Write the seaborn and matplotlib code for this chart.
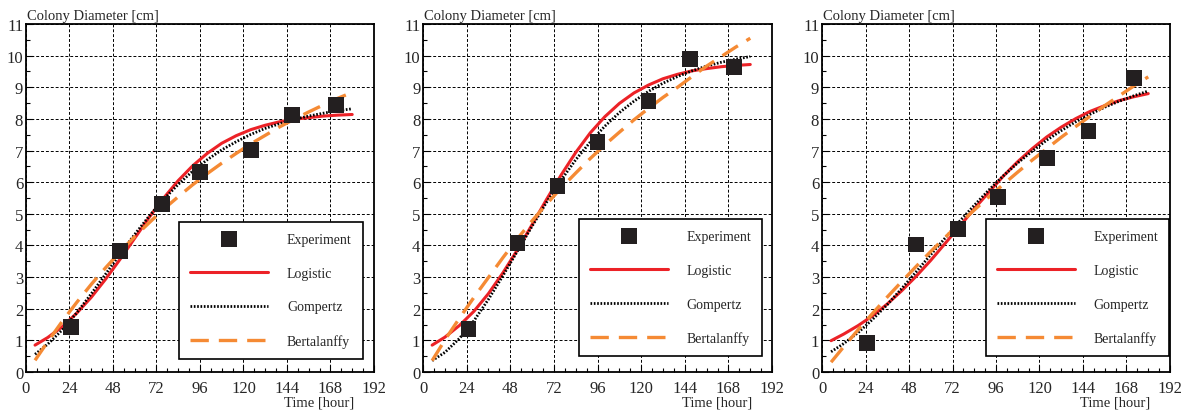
import matplotlib
matplotlib.use('Agg')
import matplotlib.pyplot as plt
from matplotlib.ticker import MultipleLocator
import seaborn as sns

sns.set_style('ticks')
plt.rcParams['font.family'] = ['Liberation Serif', 'DejaVu Serif']

# time grid of the fitted curves [hour]
t_fit = [5, 12, 20, 28, 36, 44, 52, 60, 68, 76, 84, 92, 100, 108, 116, 124,
         132, 140, 148, 156, 164, 172, 180]

# panel 1
t_exp1 = [25, 52, 75, 96, 124, 147, 171]
d_exp1 = [1.42, 3.83, 5.32, 6.33, 7.02, 8.13, 8.45]
logi1 = [0.85, 1.09, 1.43, 1.86, 2.36, 2.94, 3.57, 4.23, 4.89, 5.50, 6.05, 6.52,
         6.91, 7.23, 7.47, 7.66, 7.80, 7.91, 7.99, 8.04, 8.09, 8.12, 8.14]
gomp1 = [0.56, 0.88, 1.33, 1.87, 2.47, 3.10, 3.74, 4.35, 4.93, 5.46, 5.93, 6.35,
         6.71, 7.02, 7.28, 7.51, 7.70, 7.85, 7.99, 8.09, 8.18, 8.26, 8.32]
bert1 = [0.37, 0.96, 1.60, 2.20, 2.77, 3.30, 3.80, 4.28, 4.72, 5.15, 5.54, 5.92,
         6.27, 6.60, 6.91, 7.21, 7.48, 7.75, 7.99, 8.22, 8.44, 8.65, 8.84]

# panel 2
t_exp2 = [25, 52, 74, 96, 124, 147, 171]
d_exp2 = [1.36, 4.08, 5.89, 7.28, 8.56, 9.90, 9.63]
logi2 = [0.85, 1.10, 1.47, 1.92, 2.48, 3.14, 3.87, 4.66, 5.46, 6.23, 6.94, 7.56,
         8.07, 8.49, 8.82, 9.07, 9.27, 9.41, 9.52, 9.59, 9.65, 9.69, 9.72]
gomp2 = [0.36, 0.62, 1.06, 1.62, 2.30, 3.05, 3.83, 4.61, 5.37, 6.07, 6.71, 7.27,
         7.77, 8.20, 8.56, 8.87, 9.13, 9.34, 9.52, 9.67, 9.79, 9.89, 9.97]
bert2 = [0.36, 1.01, 1.70, 2.36, 2.99, 3.62, 4.22, 4.78, 5.31, 5.82, 6.29, 6.75,
         7.18, 7.58, 7.97, 8.33, 8.68, 9.00, 9.34, 9.67, 9.97, 10.27, 10.55]

# panel 3
t_exp3 = [25, 52, 75, 97, 124, 147, 172]
d_exp3 = [0.93, 4.03, 4.53, 5.53, 6.77, 7.62, 9.29]
logi3 = [0.99, 1.20, 1.47, 1.78, 2.15, 2.57, 3.03, 3.53, 4.07, 4.61, 5.16, 5.68,
         6.19, 6.65, 7.06, 7.43, 7.74, 8.01, 8.24, 8.42, 8.58, 8.70, 8.80]
gomp3 = [0.64, 0.90, 1.25, 1.67, 2.13, 2.64, 3.17, 3.71, 4.24, 4.77, 5.27, 5.75,
         6.20, 6.61, 6.98, 7.33, 7.63, 7.91, 8.15, 8.37, 8.56, 8.73, 8.88]
bert3 = [0.31, 0.80, 1.34, 1.86, 2.37, 2.86, 3.34, 3.81, 4.26, 4.70, 5.12, 5.53,
         5.93, 6.32, 6.70, 7.06, 7.42, 7.76, 8.09, 8.42, 8.73, 9.04, 9.33]

x_ticks = [0, 24, 48, 72, 96, 120, 144, 168, 192]
y_ticks = list(range(0, 12))
legend_order = ['Experiment', 'Logistic', 'Gompertz', 'Bertalanffy']

panels = [
    (t_exp1, d_exp1, logi1, gomp1, bert1),
    (t_exp2, d_exp2, logi2, gomp2, bert2),
    (t_exp3, d_exp3, logi3, gomp3, bert3),
]

red = '#ec2227'
orange = '#f58a34'
square = '#231f20'

fig = plt.figure(figsize=(11.86, 4.14), dpi=100)
lefts = [0.0219, 0.3567, 0.6931]
widths = [0.2934, 0.2943, 0.2934]
leg_anchor = [(0.968, 0.037), (0.972, 0.045), (0.998, 0.045)]

for i, (te, de, lo, go, be) in enumerate(panels):
    ax = fig.add_axes([lefts[i], 0.099, widths[i], 0.8406])
    sns.lineplot(x=t_fit, y=lo, ax=ax, color=red, lw=2.2, label='Logistic', zorder=3)
    sns.lineplot(x=t_fit, y=go, ax=ax, color='black', lw=2.0,
                 linestyle=(0, (0.6, 0.6)), label='Gompertz', zorder=3)
    sns.lineplot(x=t_fit, y=be, ax=ax, color=orange, lw=2.4,
                 linestyle=(0, (5.5, 3)), label='Bertalanffy', zorder=3)
    sns.scatterplot(x=te, y=de, ax=ax, marker='s', s=130, color=square,
                    edgecolor='none', label='Experiment', zorder=4)

    ax.set_xlim(0, 192)
    ax.set_ylim(0, 11)
    ax.set_xticks(x_ticks)
    ax.set_yticks(y_ticks)
    ax.xaxis.set_minor_locator(MultipleLocator(6))
    ax.yaxis.set_minor_locator(MultipleLocator(0.5))
    ax.tick_params(which='both', direction='in', top=False, right=False,
                   labelsize=12, width=0.8, color='black')
    ax.tick_params(which='major', length=5)
    ax.tick_params(which='minor', length=3)
    ax.tick_params(axis='x', pad=6)
    ax.tick_params(axis='y', pad=2)
    ax.grid(True, which='major', color='black', linestyle=(0, (3, 2)), lw=0.7)
    ax.set_axisbelow(True)
    for sp in ax.spines.values():
        sp.set_linewidth(1.3)
        sp.set_color('black')
    ax.set_xlabel('')
    ax.set_ylabel('')

    ax.text(0.003, 1.014, 'Colony Diameter [cm]', transform=ax.transAxes,
            fontsize=10.5, ha='left', va='baseline')
    ax.text(0.943, -0.097, 'Time [hour]', transform=ax.transAxes,
            fontsize=10.5, ha='right', va='baseline')

    handles, labels = ax.get_legend_handles_labels()
    lookup = dict(zip(labels, handles))
    leg = ax.legend([lookup[k] for k in legend_order], legend_order,
                    loc='lower right', bbox_to_anchor=leg_anchor[i],
                    borderaxespad=0, fontsize=10, frameon=True, fancybox=False,
                    edgecolor='black', framealpha=1, borderpad=0.8,
                    labelspacing=1.5, handlelength=5.6, handletextpad=1.35,
                    scatterpoints=1)
    leg.get_frame().set_linewidth(1.2)
    leg.set_zorder(5)

fig.savefig('out.png', dpi=100)
